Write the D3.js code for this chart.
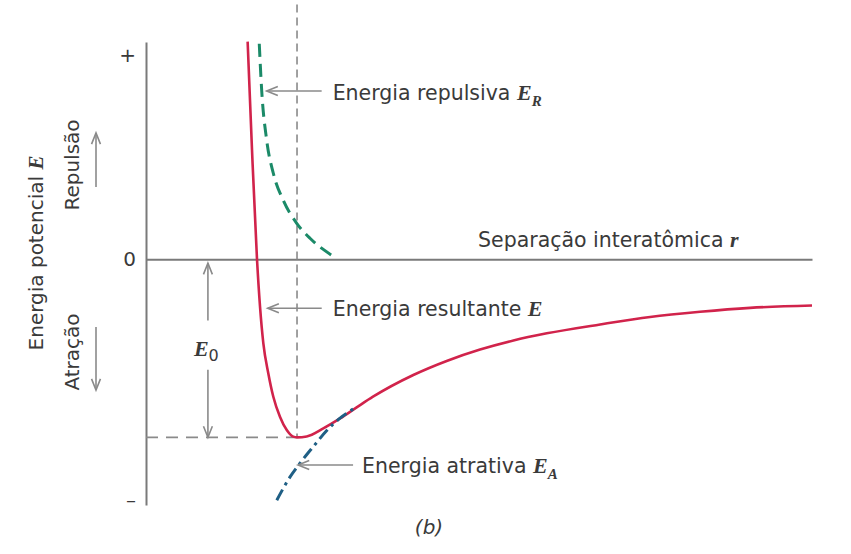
<!DOCTYPE html>
<html>
<head>
<meta charset="utf-8">
<script src="https://cdn.jsdelivr.net/npm/d3@7"></script>
<style>
  body { margin: 0; background: #fff; }
  text { font-family: "DejaVu Sans", sans-serif; fill: #3a3a3a; }
  .sym { font-family: "Liberation Serif", serif; font-style: italic; font-weight: bold; }
</style>
</head>
<body>
<div id="chart"></div>
<script>
// valores (r em unidades de r0, E em unidades de |E0|)
var rResult = [0.673, 0.702, 0.735, 0.755, 0.777, 0.810, 0.843, 0.887, 0.932, 0.975, 1.0, 1.064, 1.174, 1.285, 1.395, 1.503, 1.770, 1.991, 2.212, 2.433, 2.654, 3.007, 3.338, 3.669, 4.0, 4.41];
var eResult = [1.222, 0.613, 0, -0.266, -0.472, -0.641, -0.772, -0.884, -0.959, -0.996, -1.0, -0.995, -0.950, -0.894, -0.832, -0.772, -0.650, -0.571, -0.507, -0.456, -0.416, -0.366, -0.324, -0.295, -0.273, -0.260];
var rRepuls = [0.750, 0.766, 0.799, 0.843, 0.909, 0.998, 1.086, 1.230];
var eRepuls = [1.21, 0.949, 0.669, 0.483, 0.331, 0.202, 0.118, 0.022];
var rAtrat = [0.866, 0.954, 1.020, 1.106, 1.197, 1.285, 1.395];
var eAtrat = [-1.353, -1.222, -1.145, -1.054, -0.962, -0.892, -0.830];
var r0 = 1.0, E0 = -1.0;
var yTicks = [1.147, 0, -1.352];
var yTickLabels = ["+", "0", "\u2013"];

var width = 851, height = 554;

var svg = d3.select("#chart").append("svg")
    .attr("width", width)
    .attr("height", height);

var x = d3.scaleLinear().domain([0, 4.41]).range([146, 812]);
var y = d3.scaleLinear().domain([-1.38, 1.22]).range([505, 42]);

function pts(rs, es) { return rs.map(function (r, i) { return [r, es[i]]; }); }

var line = d3.line()
    .x(function (d) { return x(d[0]); })
    .y(function (d) { return y(d[1]); })
    .curve(d3.curveMonotoneX);

// eixos
var yAxis = svg.append("g")
    .attr("transform", "translate(" + x(0) + ",0)")
    .call(d3.axisLeft(y).tickValues(yTicks).tickSize(0).tickSizeOuter(0).tickPadding(10)
      .tickFormat(function (d, i) { return yTickLabels[i]; }));
yAxis.select(".domain").attr("stroke", "#7a7a7a").attr("stroke-width", 2);
yAxis.selectAll("text").style("font-family", "DejaVu Sans, sans-serif").style("font-size", "20px").attr("fill", "#3a3a3a");

var xAxis = svg.append("g")
    .attr("transform", "translate(0," + y(0) + ")")
    .call(d3.axisBottom(x).tickValues([]).tickSizeOuter(0));
xAxis.select(".domain").attr("stroke", "#7a7a7a").attr("stroke-width", 2);

// linhas de referência tracejadas
svg.append("line")
    .attr("x1", x(r0)).attr("x2", x(r0))
    .attr("y1", y(1.43)).attr("y2", y(E0))
    .attr("stroke", "#8a8a8a").attr("stroke-width", 1.6)
    .attr("stroke-dasharray", "8,5");
svg.append("line")
    .attr("x1", x(0)).attr("x2", x(r0))
    .attr("y1", y(E0)).attr("y2", y(E0))
    .attr("stroke", "#8a8a8a").attr("stroke-width", 1.8)
    .attr("stroke-dasharray", "12,8");

// curvas
svg.append("path")
    .attr("d", line(pts(rResult, eResult)))
    .attr("fill", "none").attr("stroke", "#d1234b").attr("stroke-width", 2.6);

svg.append("path")
    .attr("d", line(pts(rRepuls, eRepuls)))
    .attr("fill", "none").attr("stroke", "#1b8a68").attr("stroke-width", 3)
    .attr("stroke-dasharray", "13,7");

svg.append("path")
    .attr("d", line(pts(rAtrat, eAtrat)))
    .attr("fill", "none").attr("stroke", "#1f5f85").attr("stroke-width", 3)
    .attr("stroke-dasharray", "12,5,3,5");

// setas
var grey = "#8a8a8a";
function arrow(x1, y1, x2, y2) {
  var a = Math.atan2(y2 - y1, x2 - x1), L = 12, w = 0.38;
  svg.append("line").attr("x1", x1).attr("y1", y1).attr("x2", x2).attr("y2", y2)
      .attr("stroke", grey).attr("stroke-width", 1.6);
  svg.append("path")
      .attr("d", "M" + (x2 - L * Math.cos(a - w)) + "," + (y2 - L * Math.sin(a - w)) +
                 "L" + x2 + "," + y2 +
                 "L" + (x2 - L * Math.cos(a + w)) + "," + (y2 - L * Math.sin(a + w)))
      .attr("fill", "none").attr("stroke", grey).attr("stroke-width", 1.6);
}

function label(tx, ty, txt, sym, sub) {
  var t = svg.append("text").attr("x", tx).attr("y", ty).style("font-size", "20.5px");
  t.append("tspan").text(txt + " ");
  t.append("tspan").attr("class", "sym").style("font-size", "22px").text(sym);
  if (sub) t.append("tspan").attr("class", "sym").attr("dy", 6).style("font-size", "15px").text(sub);
}

// Energia repulsiva
var tipR = [x(0.799), y(0.945)];
arrow(tipR[0] + 55, tipR[1], tipR[0], tipR[1]);
label(tipR[0] + 66, tipR[1] + 9, "Energia repulsiva", "E", "R");

// Energia resultante
var tipE = [x(0.806), y(-0.275)];
arrow(tipE[0] + 54, tipE[1], tipE[0], tipE[1]);
label(tipE[0] + 65, tipE[1] + 8, "Energia resultante", "E");

// Energia atrativa
var tipA = [x(1.007), y(-1.155)];
arrow(tipA[0] + 55, tipA[1], tipA[0], tipA[1]);
label(tipA[0] + 64, tipA[1] + 8, "Energia atrativa", "E", "A");

// Separação interatômica r
var sep = svg.append("text").attr("x", 478).attr("y", y(0) - 12).style("font-size", "20.5px");
sep.append("tspan").text("Separação interatômica ");
sep.append("tspan").attr("class", "sym").style("font-size", "22px").text("r");

// E0 com seta dupla
var xE0 = x(0.41);
arrow(xE0, y(-0.22) + 22, xE0, y(0) + 4);
arrow(xE0, y(-0.62), xE0, y(E0));
var e0 = svg.append("text").attr("x", xE0 - 14).attr("y", y(-0.545)).style("font-size", "22px");
e0.append("tspan").attr("class", "sym").text("E");
e0.append("tspan").attr("dy", 5).style("font-size", "16px").text("0");

// eixo vertical: rótulos rodados
svg.append("text")
    .attr("transform", "translate(43,253) rotate(-90)")
    .attr("text-anchor", "middle").style("font-size", "20px")
    .call(function (t) {
      t.append("tspan").text("Energia potencial ");
      t.append("tspan").attr("class", "sym").style("font-size", "21px").text("E");
    });
svg.append("text")
    .attr("transform", "translate(79,165) rotate(-90)")
    .attr("text-anchor", "middle").style("font-size", "20px").text("Repulsão");
svg.append("text")
    .attr("transform", "translate(79,352) rotate(-90)")
    .attr("text-anchor", "middle").style("font-size", "20px").text("Atração");
arrow(96, 187, 96, 133);
arrow(96, 327, 96, 390);

// (b)
svg.append("text").attr("x", 429).attr("y", 534).attr("text-anchor", "middle")
    .style("font-size", "20px").style("font-style", "italic").text("(b)");
</script>
</body>
</html>
